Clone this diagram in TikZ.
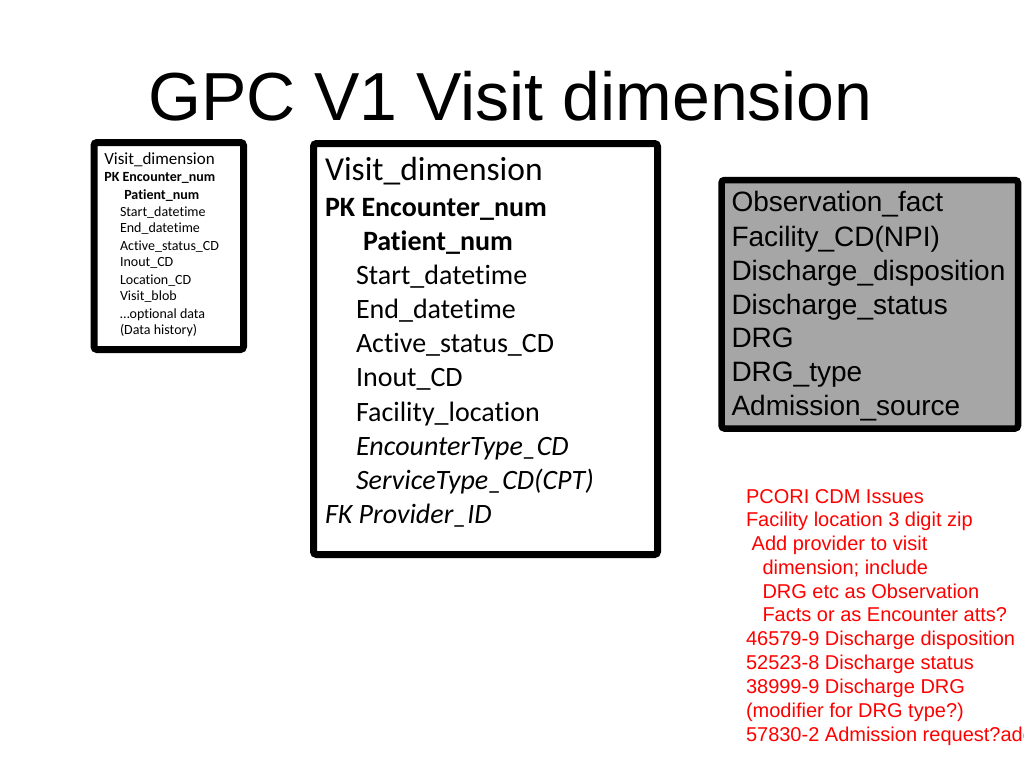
\documentclass[tikz,border=0pt]{standalone}
\usepackage{fontspec}
\setmainfont{Liberation Sans}
\newfontfamily\calfont[Ligatures={NoCommon,NoRequired,NoContextual}]{Carlito}
\definecolor{boxgrey}{HTML}{A6A6A6}
\definecolor{notered}{HTML}{FF0000}
\begin{document}
\begin{tikzpicture}[x=1pt,y=-1pt,
  tablebox/.style={draw=black, line width=7pt, rounded corners=3pt, inner sep=0pt, outer sep=0pt, anchor=north west},
  ln/.style={anchor=base west, inner sep=0pt, outer sep=0pt},
  smallhead/.style={ln, font=\calfont\fontsize{17}{20}\selectfont},
  smallbody/.style={ln, font=\calfont\fontsize{14}{17}\selectfont},
  bighead/.style={ln, font=\calfont\fontsize{33.5}{40}\selectfont},
  bigbody/.style={ln, font=\calfont\fontsize{28}{34}\selectfont},
  greytext/.style={ln, font=\fontsize{28}{34}\selectfont},
  redtext/.style={ln, text=notered, font=\fontsize{20}{24}\selectfont}
]
\clip (0,0) rectangle (1024,768);
\fill[white] (0,0) rectangle (1024,768);

% title
\node[anchor=base, inner sep=0pt, font=\fontsize{68}{80}\selectfont] (title) at (510.5,120) {GPC V1 Visit dimension};

% small box
\node[tablebox, minimum width=149.5pt, minimum height=207pt] (smallbox) at (94,142.5) {};
\node[smallhead] (s1) at (104.3,164.3) {Visit\_dimension};
\node[smallbody] (s2) at (104.3,181.7) {\bfseries PK Encounter\_num};
\node[smallbody] (s3) at (124.3,199) {\bfseries Patient\_num};
\node[smallbody] (s4) at (120,216) {Start\_datetime};
\node[smallbody] (s5) at (120,232.8) {End\_datetime};
\node[smallbody] (s6) at (120,250) {Active\_status\_CD};
\node[smallbody] (s7) at (120,266.8) {Inout\_CD};
\node[smallbody] (s8) at (120,284) {Location\_CD};
\node[smallbody] (s9) at (120,300.8) {Visit\_blob};
\node[smallbody] (s10) at (120,318) {…optional data};
\node[smallbody] (s11) at (120,334.5) {(Data history)};

% big box
\node[tablebox, minimum width=344pt, minimum height=411pt] (bigbox) at (313.5,143.5) {};
\node[bighead] (b1) at (325,180) {Visit\_dimension};
\node[bigbody] (b2) at (325,216) {\bfseries PK Encounter\_num};
\node[bigbody] (b3) at (363,250) {\bfseries Patient\_num};
\node[bigbody] (b4) at (356,284) {Start\_datetime};
\node[bigbody] (b5) at (356,318) {End\_datetime};
\node[bigbody] (b6) at (356,352) {Active\_status\_CD};
\node[bigbody] (b7) at (356,386.5) {Inout\_CD};
\node[bigbody] (b8) at (356,421) {Facility\_location};
\node[bigbody] (b9) at (356,455) {\itshape EncounterType\_CD};
\node[bigbody] (b10) at (356,489) {\itshape ServiceType\_CD(CPT)};
\node[bigbody] (b11) at (325,523) {\itshape FK Provider\_ID};

% grey box
\node[tablebox, fill=boxgrey, line width=6.5pt, minimum width=296.5pt, minimum height=248.5pt] (greybox) at (721.5,180) {};
\node[greytext] (g1) at (731.5,211.7) {Observation\_fact};
\node[greytext] (g2) at (731.5,246.5) {Facility\_CD(NPI)};
\node[greytext] (g3) at (731.5,280.3) {Discharge\_disposition};
\node[greytext] (g4) at (731.5,314.2) {Discharge\_status};
\node[greytext] (g5) at (731.5,347.9) {DRG};
\node[greytext] (g6) at (731.5,381.8) {DRG\_type};
\node[greytext] (g7) at (731.5,415.4) {Admission\_source};

% red notes
\node[redtext] (r1) at (746,503.3) {PCORI CDM Issues};
\node[redtext] (r2) at (746,526.9) {Facility location 3 digit zip};
\node[redtext] (r3) at (751.7,550.7) {Add provider to visit};
\node[redtext] (r4) at (762.5,574.4) {dimension; include};
\node[redtext] (r5) at (762.5,598.2) {DRG etc as Observation};
\node[redtext] (r6) at (762.5,621.9) {Facts or as Encounter atts?};
\node[redtext] (r7) at (746,645.7) {46579-9 Discharge disposition};
\node[redtext] (r8) at (746,669.6) {52523-8 Discharge status};
\node[redtext] (r9) at (746,693.3) {38999-9 Discharge DRG};
\node[redtext] (r10) at (746,717.2) {(modifier for DRG type?)};
\node[redtext] (r11) at (746,741.2) {57830-2 Admission request?add};
\end{tikzpicture}
\end{document}
